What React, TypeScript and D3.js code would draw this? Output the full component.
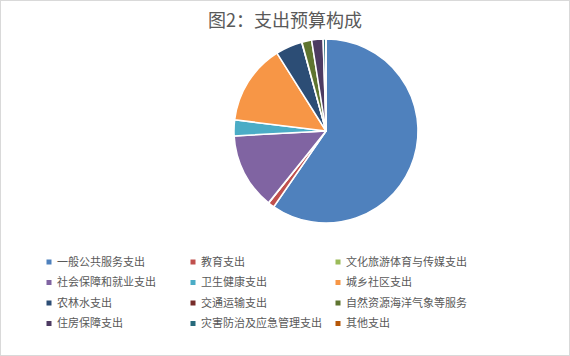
import React from "react";
import * as d3 from "d3";

const categories = [
  "一般公共服务支出",
  "教育支出",
  "文化旅游体育与传媒支出",
  "社会保障和就业支出",
  "卫生健康支出",
  "城乡社区支出",
  "农林水支出",
  "交通运输支出",
  "自然资源海洋气象等服务",
  "住房保障支出",
  "灾害防治及应急管理支出",
  "其他支出",
];
const values = [59.6, 1.1, 0.05, 13.4, 2.8, 14.1, 4.7, 0.05, 1.7, 2.0, 0.45, 0.05];
const colors = [
  "#4F81BD", "#C0504D", "#9BBB59", "#8064A2", "#4BACC6", "#F79646",
  "#2C4D75", "#772C2A", "#5F7530", "#4D3B62", "#276A7C", "#B65708",
];
const title = "图2：支出预算构成";

export default function App() {
  const W = 570, H = 356;
  const cx = 326, cy = 131, r = 92;
  const pie = d3.pie<number>().sort(null).value((d) => d);
  const arcs = pie(values);
  const arcGen = d3.arc<d3.PieArcDatum<number>>().innerRadius(0).outerRadius(r);
  const font = "'Noto Sans CJK SC', 'Microsoft YaHei', sans-serif";
  const colX = [49, 193, 338];
  const rowY = [262, 282.5, 303, 323.5];
  return (
    <div style={{ position: "fixed", left: 0, top: 0 }}>
      <svg width={W} height={H} style={{ display: "block" }}>
        <rect x={0.5} y={0.5} width={W - 1} height={H - 1} fill="#fff" stroke="#d9d9d9" />
        <text x={285} y={27} textAnchor="middle" fontSize={18} fill="#595959" fontFamily={font}>
          {title}
        </text>
        <g transform={`translate(${cx},${cy})`}>
          {arcs.map((a, i) => (
            <path key={i} d={arcGen(a) || ""} fill={colors[i]} stroke="#fff" strokeWidth={1.5} strokeLinejoin="round" />
          ))}
        </g>
        {categories.map((c, i) => {
          const x = colX[i % 3];
          const y = rowY[Math.floor(i / 3)];
          return (
            <g key={c}>
              <rect x={x - 2.5} y={y - 2.5} width={5} height={5} fill={colors[i]} />
              <text x={x + 8} y={y} dy="0.36em" fontSize={11} fill="#595959" fontFamily={font}>
                {c}
              </text>
            </g>
          );
        })}
      </svg>
    </div>
  );
}
